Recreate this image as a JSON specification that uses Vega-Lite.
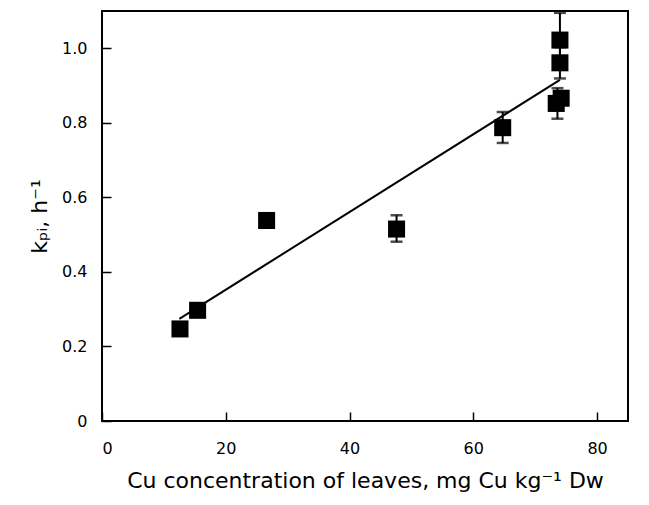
{
  "$schema": "https://vega.github.io/schema/vega-lite/v6.json",
  "autosize": "none",
  "width": 526,
  "height": 410,
  "padding": {"left": 102, "top": 11, "right": 21, "bottom": 84},
  "background": "white",
  "config": {
    "view": {"stroke": "black", "strokeWidth": 2},
    "font": "DejaVu Sans",
    "axis": {
      "grid": false,
      "domain": false,
      "tickColor": "black",
      "tickWidth": 1.5,
      "tickSize": -9,
      "labelColor": "black",
      "titleColor": "black",
      "labelFont": "DejaVu Sans",
      "titleFont": "DejaVu Sans",
      "labelFontSize": 16,
      "titleFontSize": 22,
      "titleFontWeight": "normal"
    }
  },
  "datasets": {
    "pts": [
      {"cu": 12.6, "k": 0.247},
      {"cu": 15.45, "k": 0.297},
      {"cu": 26.6, "k": 0.538},
      {"cu": 47.6, "k": 0.515},
      {"cu": 64.75, "k": 0.787},
      {"cu": 74.0, "k": 1.022},
      {"cu": 74.0, "k": 0.961},
      {"cu": 74.2, "k": 0.866},
      {"cu": 73.4, "k": 0.852}
    ],
    "err": [
      {"cu": 47.6, "lo": 0.481, "hi": 0.552},
      {"cu": 64.75, "lo": 0.746, "hi": 0.829},
      {"cu": 74.0, "lo": 0.949, "hi": 1.095},
      {"cu": 74.0, "lo": 0.919, "hi": 1.003},
      {"cu": 73.6, "lo": 0.811, "hi": 0.893}
    ],
    "fit": [
      {"cu": 12.5, "k": 0.274},
      {"cu": 74.0, "k": 0.915}
    ]
  },
  "layer": [
    {
      "data": {"name": "err"},
      "mark": {"type": "rule", "color": "black", "strokeWidth": 2},
      "encoding": {
        "x": {"field": "cu", "type": "quantitative", "scale": {"domain": [0, 85], "nice": false},
          "axis": {"values": [0, 20, 40, 60, 80], "title": "Cu concentration of leaves, mg Cu kg⁻¹ Dw", "titlePadding": 14, "labelPadding": 28}},
        "y": {"field": "lo", "type": "quantitative", "scale": {"domain": [0, 1.1], "nice": false},
          "axis": {"values": [0, 0.2, 0.4, 0.6, 0.8, 1.0], "labelExpr": "datum.value == 0 ? '0' : format(datum.value, '.1f')", "title": "kₚᵢ, h⁻¹", "titlePadding": 10, "labelPadding": 24}},
        "y2": {"field": "hi"}
      }
    },
    {
      "data": {"name": "err"},
      "mark": {"type": "tick", "color": "black", "orient": "horizontal", "size": 12, "thickness": 2.5},
      "encoding": {
        "x": {"field": "cu", "type": "quantitative"},
        "y": {"field": "lo", "type": "quantitative"}
      }
    },
    {
      "data": {"name": "err"},
      "mark": {"type": "tick", "color": "black", "orient": "horizontal", "size": 12, "thickness": 2.5},
      "encoding": {
        "x": {"field": "cu", "type": "quantitative"},
        "y": {"field": "hi", "type": "quantitative"}
      }
    },
    {
      "data": {"name": "fit"},
      "mark": {"type": "line", "color": "black", "strokeWidth": 2},
      "encoding": {
        "x": {"field": "cu", "type": "quantitative"},
        "y": {"field": "k", "type": "quantitative"}
      }
    },
    {
      "data": {"name": "pts"},
      "mark": {"type": "point", "shape": "square", "filled": true, "color": "black", "opacity": 1, "size": 290},
      "encoding": {
        "x": {"field": "cu", "type": "quantitative"},
        "y": {"field": "k", "type": "quantitative"}
      }
    }
  ]
}
